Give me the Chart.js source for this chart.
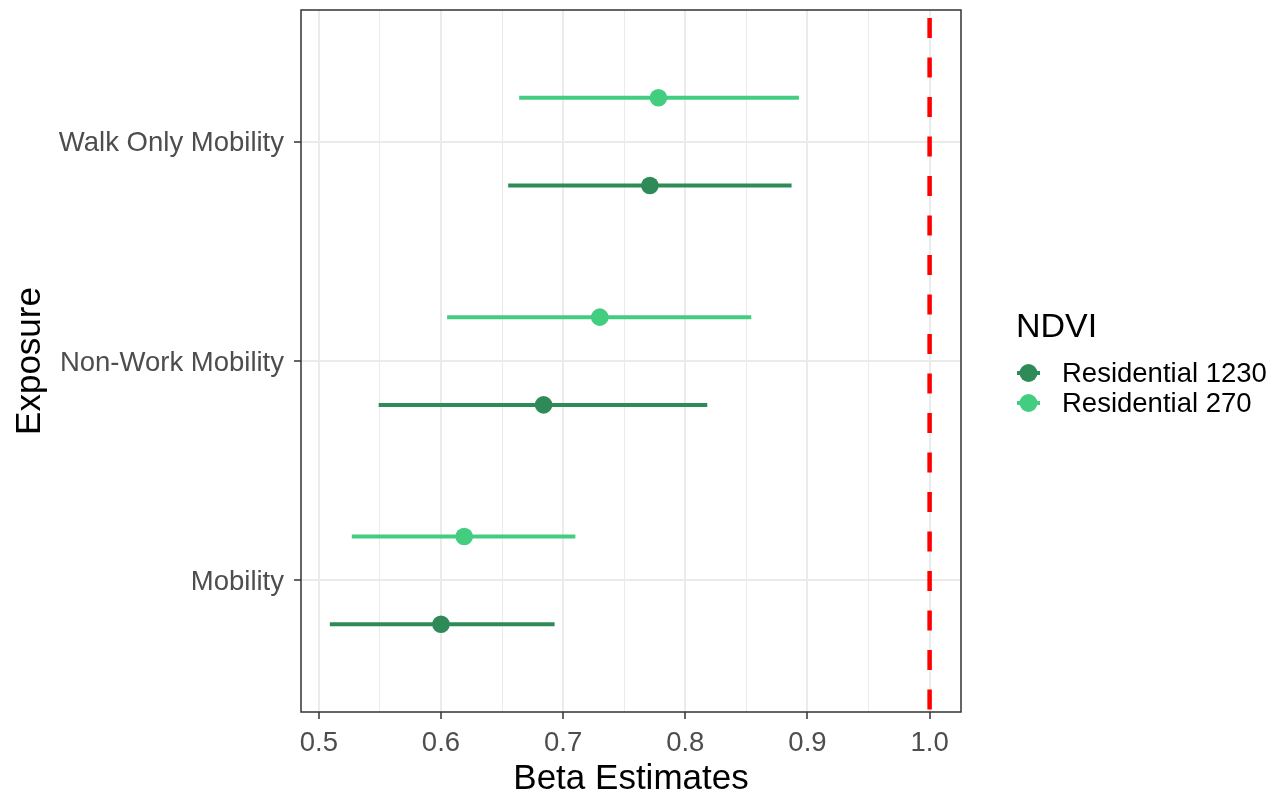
<!DOCTYPE html>
<html>
<head>
<meta charset="utf-8">
<script src="https://cdn.jsdelivr.net/npm/chart.js@4"></script>
<style>
  body { margin: 0; background: #fff; }
  canvas { display: block; }
</style>
</head>
<body>
<canvas id="betaChart" width="1286" height="802"></canvas>
<script>
// categories bottom -> top (y = 1, 2, 3)
const categories = ['Mobility', 'Non-Work Mobility', 'Walk Only Mobility'];

// Residential 1230
const est1230 = [0.600, 0.684, 0.771];
const lo1230  = [0.509, 0.549, 0.655];
const hi1230  = [0.693, 0.818, 0.887];

// Residential 270
const est270 = [0.619, 0.730, 0.778];
const lo270  = [0.527, 0.605, 0.664];
const hi270  = [0.710, 0.854, 0.893];

const xMajorTicks = [0.5, 0.6, 0.7, 0.8, 0.9, 1.0];
const xMinorTicks = [0.55, 0.65, 0.75, 0.85, 0.95];
const refLine = 1.0;

const DARK = '#2E8B57';
const LIGHT = '#43CD80';
const DODGE = 0.2;
const FONT = '"Liberation Sans", Arial, sans-serif';

function isMajor(v) {
    return xMajorTicks.some(m => Math.abs(m - v) < 1e-6);
}

// interval segments, broken with nulls between them
function intervals(lo, hi, off) {
    const out = [];
    lo.forEach((l, i) => {
        out.push({ x: l, y: i + 1 + off });
        out.push({ x: hi[i], y: i + 1 + off });
        out.push({ x: null, y: null });
    });
    return out;
}
function points(est, off) {
    return est.map((e, i) => ({ x: e, y: i + 1 + off }));
}

// panel border drawn on top like ggplot theme_bw
const panelBorder = {
    id: 'panelBorder',
    afterDatasetsDraw(chart) {
        const { ctx, chartArea: a } = chart;
        ctx.save();
        ctx.strokeStyle = '#333333';
        ctx.lineWidth = 1.5;
        ctx.strokeRect(a.left, a.top, a.right - a.left, a.bottom - a.top);
        ctx.restore();
    }
};

// legend on the right, point + short line keys
const sideLegend = {
    id: 'sideLegend',
    afterDraw(chart) {
        const ctx = chart.ctx;
        const items = [
            { label: 'Residential 1230', color: DARK },
            { label: 'Residential 270', color: LIGHT }
        ];
        ctx.save();
        ctx.fillStyle = '#000';
        ctx.font = '34px ' + FONT;
        ctx.textBaseline = 'alphabetic';
        ctx.textAlign = 'left';
        ctx.fillText('NDVI', 1016, 337);
        ctx.font = '27.5px ' + FONT;
        ctx.textBaseline = 'middle';
        items.forEach((it, i) => {
            const y = 373 + i * 30;
            ctx.strokeStyle = it.color;
            ctx.lineWidth = 4;
            ctx.beginPath();
            ctx.moveTo(1017, y);
            ctx.lineTo(1040, y);
            ctx.stroke();
            ctx.fillStyle = it.color;
            ctx.beginPath();
            ctx.arc(1028.5, y, 9, 0, Math.PI * 2);
            ctx.fill();
            ctx.fillStyle = '#000';
            ctx.fillText(it.label, 1062, y + 1);
        });
        ctx.restore();
    }
};

const ctx = document.getElementById('betaChart').getContext('2d');
const betaChart = new Chart(ctx, {
    type: 'scatter',
    data: {
        datasets: [
            {
                label: 'ref',
                type: 'line',
                data: [{ x: refLine, y: 3.6 }, { x: refLine, y: 0.4 }],
                borderColor: '#FF0000',
                borderWidth: 4.5,
                borderDash: [20, 19.5],
                borderDashOffset: 31.5,
                pointRadius: 0,
                fill: false
            },
            {
                label: 'ci 1230',
                type: 'line',
                data: intervals(lo1230, hi1230, -DODGE),
                borderColor: DARK,
                borderWidth: 4,
                borderCapStyle: 'butt',
                pointRadius: 0,
                spanGaps: false,
                fill: false
            },
            {
                label: 'Residential 1230',
                data: points(est1230, -DODGE),
                backgroundColor: DARK,
                borderWidth: 0,
                pointRadius: 8.8
            },
            {
                label: 'ci 270',
                type: 'line',
                data: intervals(lo270, hi270, DODGE),
                borderColor: LIGHT,
                borderWidth: 4,
                borderCapStyle: 'butt',
                pointRadius: 0,
                spanGaps: false,
                fill: false
            },
            {
                label: 'Residential 270',
                data: points(est270, DODGE),
                backgroundColor: LIGHT,
                borderWidth: 0,
                pointRadius: 8.8
            }
        ]
    },
    options: {
        responsive: false,
        animation: false,
        layout: { padding: { top: 10, right: 325, left: 0, bottom: 0 } },
        plugins: {
            legend: { display: false },
            tooltip: { enabled: false }
        },
        scales: {
            x: {
                type: 'linear',
                min: 0.4854,
                max: 1.0257,
                afterBuildTicks: s => {
                    s.ticks = xMajorTicks.concat(xMinorTicks).sort((a, b) => a - b).map(v => ({ value: v }));
                },
                afterFit: s => {
                    s.height = 90;
                    s.paddingLeft = 0;
                    s.paddingRight = 0;
                },
                ticks: {
                    autoSkip: false,
                    maxRotation: 0,
                    padding: 8,
                    color: '#4D4D4D',
                    font: { family: FONT, size: 27.5 },
                    callback: v => isMajor(v) ? v.toFixed(1) : ''
                },
                grid: {
                    color: '#EBEBEB',
                    lineWidth: c => isMajor(c.tick.value) ? 2 : 1,
                    tickLength: 7,
                    tickWidth: 1.5,
                    tickColor: c => isMajor(c.tick.value) ? '#333333' : 'rgba(0,0,0,0)'
                },
                border: { display: false },
                title: {
                    display: true,
                    text: 'Beta Estimates',
                    color: '#000',
                    font: { family: FONT, size: 35 },
                    padding: { top: 0, bottom: 2 }
                }
            },
            y: {
                type: 'linear',
                min: 0.4,
                max: 3.6,
                afterBuildTicks: s => {
                    s.ticks = categories.map((c, i) => ({ value: i + 1 }));
                },
                afterFit: s => {
                    s.width = 301;
                    s.paddingTop = 0;
                    s.paddingBottom = 0;
                },
                ticks: {
                    autoSkip: false,
                    padding: 10,
                    labelOffset: 2,
                    color: '#4D4D4D',
                    font: { family: FONT, size: 27.5 },
                    callback: (v, i) => categories[i]
                },
                grid: {
                    color: '#EBEBEB',
                    lineWidth: 2,
                    tickLength: 7,
                    tickWidth: 1.5,
                    tickColor: '#333333'
                },
                border: { display: false },
                title: {
                    display: true,
                    text: 'Exposure',
                    color: '#000',
                    font: { family: FONT, size: 35 },
                    padding: { top: 9, bottom: 0 }
                }
            }
        }
    },
    plugins: [panelBorder, sideLegend]
});
</script>
</body>
</html>
